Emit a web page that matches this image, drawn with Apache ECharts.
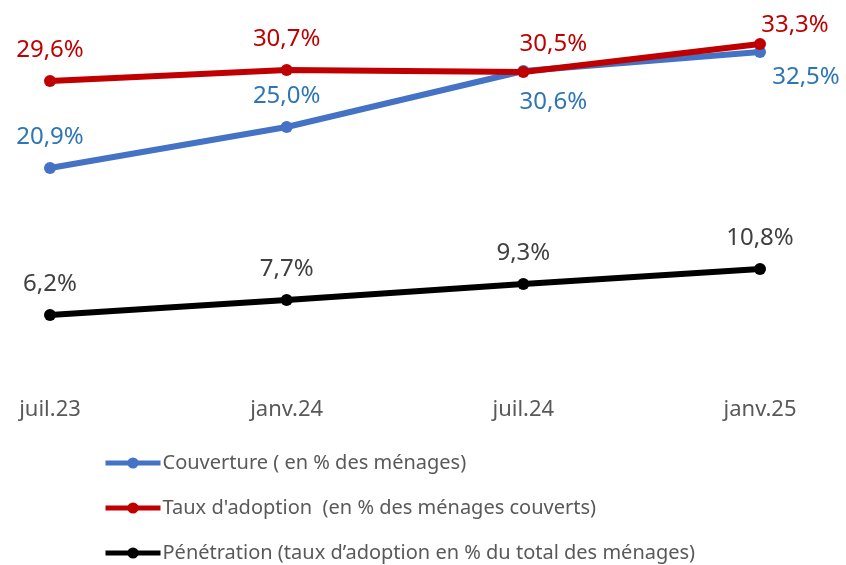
<!DOCTYPE html>
<html>
<head>
<meta charset="utf-8">
<script src="https://cdn.jsdelivr.net/npm/echarts@6/dist/echarts.min.js"></script>
<style>
    html, body { margin: 0; padding: 0; background: #fff; }
    #chart { width: 846px; height: 565px; }
</style>
</head>
<body>
<div id="chart"></div>
<script>
// données ===============================================================
var categories = ['juil.23', 'janv.24', 'juil.24', 'janv.25'];
var couverture = [20.9, 25.0, 30.6, 32.5];
var adoption = [29.6, 30.7, 30.5, 33.3];
var penetration = [6.2, 7.7, 9.3, 10.8];
var seriesNames = [
    'Couverture ( en % des ménages)',
    'Taux d\'adoption  (en % des ménages couverts)',
    'Pénétration (taux d’adoption en % du total des ménages)'
];

var FONT = '"Noto Sans", sans-serif';

function fmt(p) {
    return p.value.toFixed(1).replace('.', ',') + '%';
}

// décalages particuliers de certaines étiquettes
function withLabels(values, overrides) {
    return values.map(function(v, i) {
        var item = { value: v };
        if (overrides[i]) {
            item.label = overrides[i];
        }
        return item;
    });
}

var chart = echarts.init(document.getElementById('chart'));

var option = {
    animation: false,
    grid: {
        left: 50,
        right: 86,
        top: 27,
        bottom: 188
    },
    legend: {
        orient: 'vertical',
        left: 103,
        top: 453,
        padding: 0,
        itemWidth: 55,
        itemHeight: 14,
        itemGap: 25,
        lineStyle: { width: 5 },
        textStyle: {
            fontFamily: FONT,
            fontSize: 20,
            color: '#595959',
            padding: [0, 0, 0, -3]
        },
        data: seriesNames
    },
    xAxis: {
        type: 'category',
        data: categories,
        boundaryGap: false,
        axisLine: { show: false },
        axisTick: { show: false },
        splitLine: { show: false },
        axisLabel: {
            margin: 22,
            fontFamily: FONT,
            fontSize: 22,
            color: '#595959'
        }
    },
    yAxis: {
        type: 'value',
        min: 0,
        max: 35,
        show: false,
        splitLine: { show: false }
    },
    series: [
        {
            name: seriesNames[0],
            type: 'line',
            data: withLabels(couverture, {
                2: { position: 'bottom', offset: [30, 0] },
                3: { position: 'bottom', offset: [46, -6] }
            }),
            symbol: 'circle',
            symbolSize: 12,
            lineStyle: { width: 6, color: '#4472C4' },
            itemStyle: { color: '#4472C4' },
            label: {
                show: true,
                position: 'top',
                distance: 13,
                formatter: fmt,
                fontFamily: FONT,
                fontSize: 24,
                color: '#2E75B6'
            },
            z: 2
        },
        {
            name: seriesNames[1],
            type: 'line',
            data: withLabels(adoption, {
                2: { offset: [30, 3] },
                3: { offset: [35, 12] }
            }),
            symbol: 'circle',
            symbolSize: 12,
            lineStyle: { width: 6, color: '#C00000' },
            itemStyle: { color: '#C00000' },
            label: {
                show: true,
                position: 'top',
                distance: 13,
                formatter: fmt,
                fontFamily: FONT,
                fontSize: 24,
                color: '#C00000'
            },
            z: 3
        },
        {
            name: seriesNames[2],
            type: 'line',
            data: penetration,
            symbol: 'circle',
            symbolSize: 12,
            lineStyle: { width: 6, color: '#000000' },
            itemStyle: { color: '#000000' },
            label: {
                show: true,
                position: 'top',
                distance: 13,
                formatter: fmt,
                fontFamily: FONT,
                fontSize: 24,
                color: '#404040'
            },
            z: 2
        }
    ]
};

chart.setOption(option);
</script>
</body>
</html>
